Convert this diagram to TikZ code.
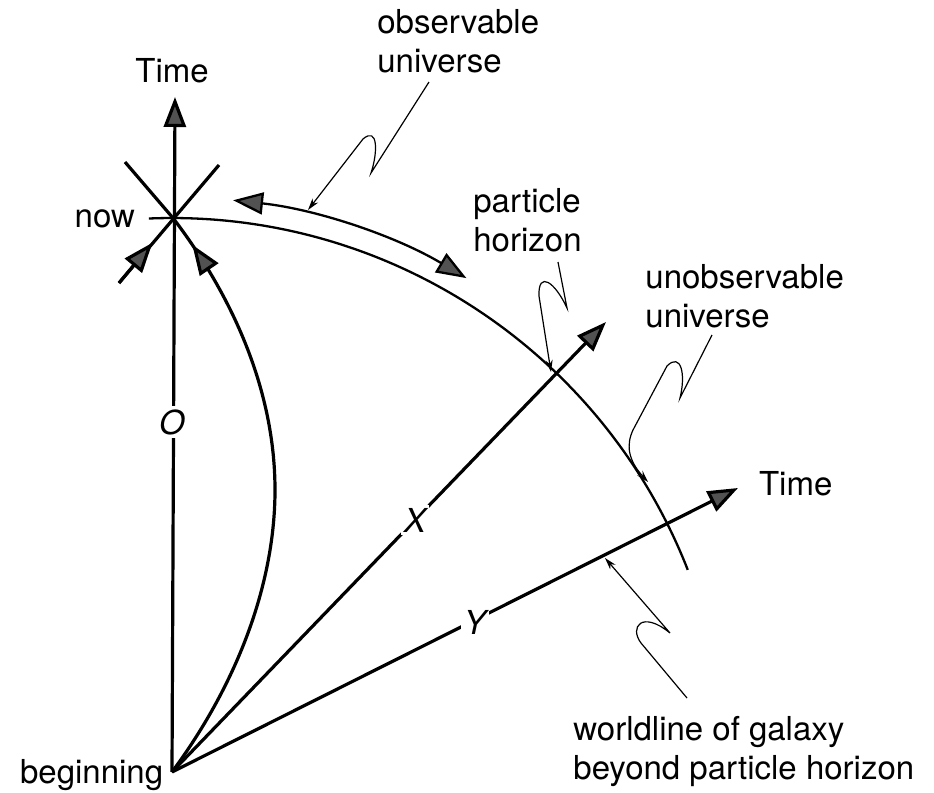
\documentclass[tikz,border=0pt]{standalone}
\usepackage{fontspec}
\setmainfont{TeX Gyre Heros}
\usetikzlibrary{arrows.meta,decorations.markings,calc}

\tikzset{
  bigtip/.tip={Triangle[length=15pt,width=11pt,fill=black!68]},
  smalltip/.tip={Stealth[length=6pt,width=3.5pt]},
  worldline/.style={line width=1.6pt},
  horizon/.style={line width=1.15pt},
  leader/.style={line width=0.6pt,-{smalltip}},
  caption/.style={inner sep=0pt,align=left,anchor=north west},
  tag/.style={fill=white,inner sep=1.5pt},
}

\begin{document}
\begin{tikzpicture}[x=0.5pt,y=0.5pt,font=\fontsize{16.5}{19.5}\selectfont]
\useasboundingbox (0,0) rectangle (934,-793);
\coordinate (beginning) at (172,-772);
\coordinate (now) at (173,-218);
\coordinate (O-tip) at (175,-97);
\coordinate (X-tip) at (606,-322);
\coordinate (Y-tip) at (738,-488);
\coordinate (past-left) at (119,-283);
\coordinate (future-right) at (219,-165);
\coordinate (future-left) at (125,-162);
% worldlines
\draw[worldline,-{bigtip}] (beginning) -- (O-tip);
\draw[worldline,-{bigtip}] (beginning) -- (X-tip);
\draw[worldline,-{bigtip}] (beginning) -- (Y-tip);
% light cone at now
\draw[worldline] (past-left) -- (future-right);
\draw[worldline,-{bigtip}] (past-left) -- ($(past-left)!0.62!(now)$);
\draw[worldline] (now) -- (future-left);
\draw[worldline,postaction={decorate},decoration={markings,mark=at position 0.945 with {\arrow{bigtip}}}]
  (beginning) .. controls (240,-680) and (275,-580) .. (275,-490)
  .. controls (275,-385) and (228,-290) .. (now);
% surface of now, and the observable part
\draw[horizon] (beginning) ++(92.4:554) arc[start angle=92.4,end angle=21.4,radius=554];
\draw[horizon,{bigtip}-{bigtip}] (beginning) ++(83.9:575) arc[start angle=83.9,end angle=59.2,radius=575];
% labels on the worldlines
\node[tag] (O-label) at (172,-422) {\itshape O};
\node[tag] (X-label) at (415,-520) {\itshape X};
\node[tag] (Y-label) at (475,-622) {\itshape Y};
\node[anchor=base] (time-O) at (172,-82) {Time};
\node[anchor=base west] (time-Y) at (752,-495) {Time};
\node[anchor=base east] (now-label) at (142,-227) {now};
\node[anchor=base west] (beginning-label) at (13,-783) {beginning};
% captions and their leaders
\node[caption] (observable-label) at (377,-9) {observable\\universe};
\node[caption] (particle-label) at (473,-188) {particle\\horizon};
\node[caption] (unobservable-label) at (645,-264) {unobservable\\universe};
\node[caption] (galaxy-label) at (573,-716) {worldline of galaxy\\beyond particle horizon};
\draw[leader] (429,-82) -- (371,-173) .. controls (378,-152) and (378,-126) .. (363,-139) -- (308,-210);
\draw[leader] (558,-262) -- (567,-308) .. controls (555,-282) and (538,-270) .. (539,-296) -- (551,-372);
\draw[leader] (712,-335) -- (680,-398) .. controls (686,-374) and (681,-352) .. (667,-366) -- (633,-430)
  .. controls (626,-445) and (628,-460) .. (648,-482);
\draw[leader] (687,-698) -- (641,-643) .. controls (629,-627) and (642,-610) .. (670,-633) -- (605,-558);
\end{tikzpicture}
\end{document}
